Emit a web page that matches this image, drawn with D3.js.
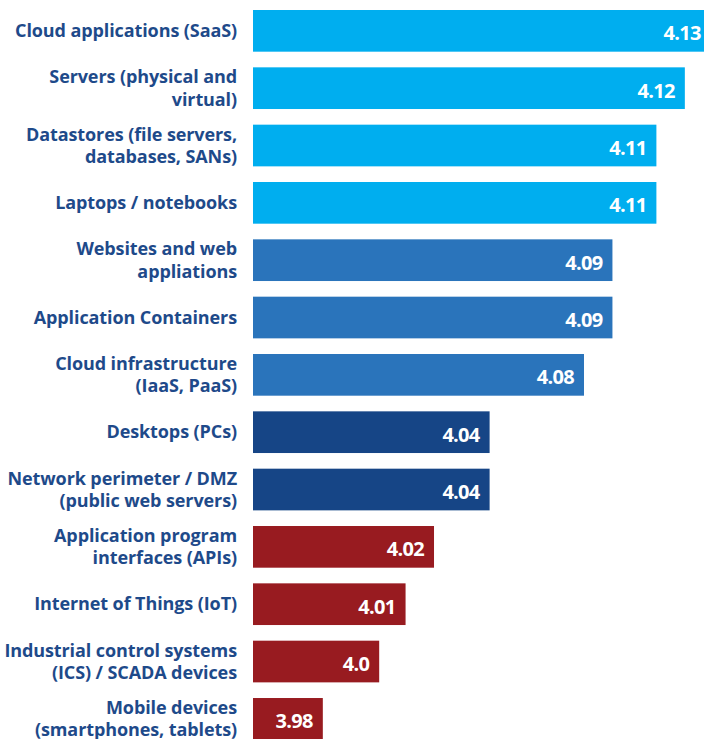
<!DOCTYPE html>
<html>
<head>
<meta charset="utf-8">
<script src="https://cdn.jsdelivr.net/npm/d3@7"></script>
<style>
  html, body { margin: 0; padding: 0; background: #ffffff; overflow: hidden; }
  svg { display: block; }
</style>
</head>
<body>
<svg id="chart" width="704" height="739"></svg>
<script>
const categories = [
  "Cloud applications (SaaS)",
  "Servers (physical and\nvirtual)",
  "Datastores (file servers,\ndatabases, SANs)",
  "Laptops / notebooks",
  "Websites and web\nappliations",
  "Application Containers",
  "Cloud infrastructure\n(IaaS, PaaS)",
  "Desktops (PCs)",
  "Network perimeter / DMZ\n(public web servers)",
  "Application program\ninterfaces (APIs)",
  "Internet of Things (IoT)",
  "Industrial control systems\n(ICS) / SCADA devices",
  "Mobile devices\n(smartphones, tablets)"
];
const values = [4.13, 4.12, 4.109, 4.109, 4.092, 4.092, 4.081, 4.0445, 4.0445, 4.023, 4.012, 4.0018, 3.98];
const valueLabels = ["4.13", "4.12", "4.11", "4.11", "4.09", "4.09", "4.08", "4.04", "4.04", "4.02", "4.01", "4.0", "3.98"];
const groups = ["top", "top", "top", "top", "high", "high", "high", "mid", "mid", "low", "low", "low", "low"];

const colorScale = d3.scaleOrdinal()
  .domain(["top", "high", "mid", "low"])
  .range(["#00aeef", "#2a74bb", "#164586", "#981b20"]);

const svg = d3.select("#chart");
const barLeft = 253;
const x = d3.scaleLinear().domain([3.953, 4.13]).range([barLeft, 710.7]);
const y = d3.scaleBand().domain(d3.range(categories.length))
  .range([10, 739.7]).paddingInner(0.273).paddingOuter(0);

const data = categories.map((c, i) => ({ c, v: values[i], lab: valueLabels[i], g: groups[i], i }));

svg.selectAll("rect.bar").data(data).join("rect")
  .attr("class", "bar")
  .attr("x", x.range()[0])
  .attr("y", d => y(d.i))
  .attr("width", d => x(d.v) - x.range()[0])
  .attr("height", y.bandwidth())
  .attr("fill", d => colorScale(d.g));

svg.selectAll("text.val").data(data).join("text")
  .attr("class", "val")
  .attr("x", d => x(d.v) - 10)
  .attr("y", d => y(d.i) + y.bandwidth() / 2 + 9.5)
  .attr("text-anchor", "end")
  .attr("fill", "#ffffff")
  .style("font-family", "'Open Sans', sans-serif")
  .style("font-weight", "700")
  .style("font-size", "20px")
  .style("letter-spacing", "-0.7px")
  .text(d => d.lab);

const lineH = 22.5;
const cat = svg.selectAll("text.cat").data(data).join("text")
  .attr("class", "cat")
  .attr("text-anchor", "end")
  .attr("fill", "#1e4a8a")
  .style("font-family", "'Open Sans', sans-serif")
  .style("font-weight", "700")
  .style("font-size", "18px")
  .style("letter-spacing", "-0.1px");

cat.each(function(d) {
  const lines = d.c.split("\n");
  const t = d3.select(this);
  const c = y(d.i) + y.bandwidth() / 2 + 6.3;
  const off = -(lines.length - 1) / 2 * lineH;
  lines.forEach((ln, k) => {
    t.append("tspan")
      .attr("x", 237)
      .attr("y", c + off + k * lineH)
      .text(ln);
  });
});
</script>
</body>
</html>
